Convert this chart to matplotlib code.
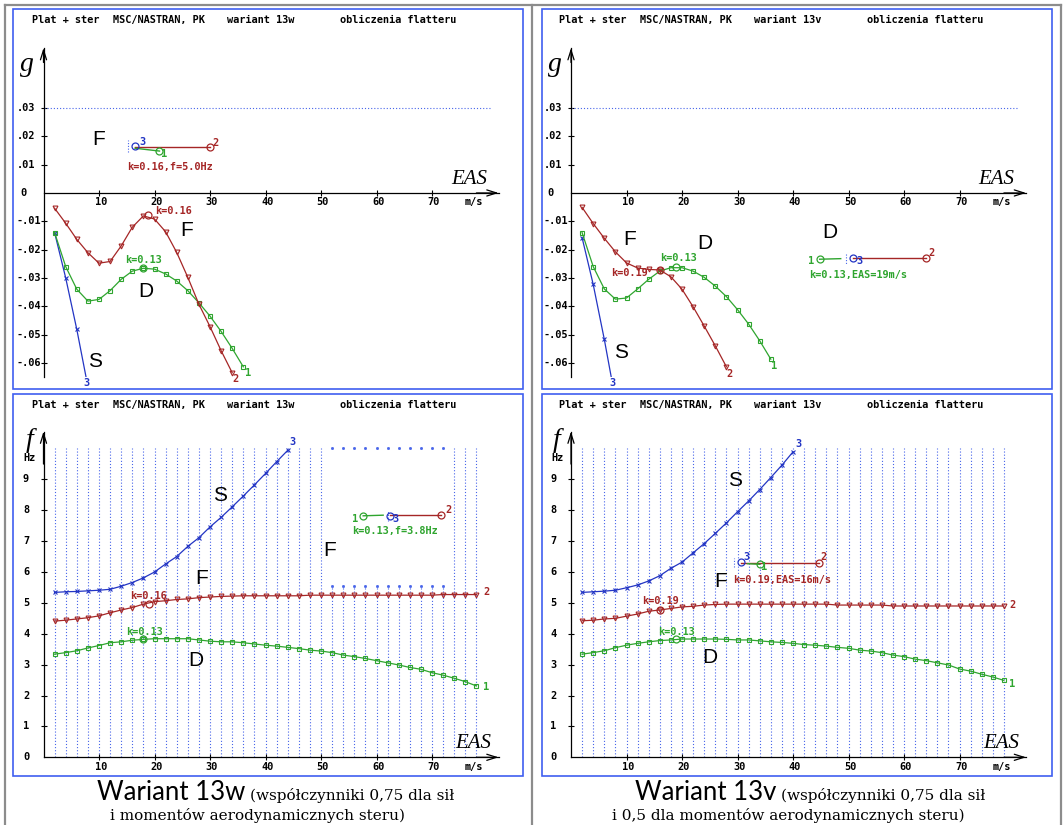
import numpy as np
import matplotlib.pyplot as plt
from matplotlib.patches import Rectangle
from matplotlib.lines import Line2D

W, H = 1063, 825

RED = '#a52626'
GREEN = '#2fa52f'
BLUE = '#2335c4'
DOT = '#4865ea'
BOX = '#3f5ff0'
GRAY = '#8c8c8c'

# ---------------- data (EAS in m/s) ----------------
eas = np.arange(2, 80, 2)            # 2 ... 78

# damping g, wariant 13w
g13w_1 = [-0.0140, -0.0260, -0.0340, -0.0382, -0.0376, -0.0345, -0.0305, -0.0276, -0.0266,
          -0.0269, -0.0286, -0.0311, -0.0345, -0.0388, -0.0435, -0.0489, -0.0549, -0.0614]
g13w_2 = [-0.0054, -0.0107, -0.0164, -0.0211, -0.0248, -0.0242, -0.0187, -0.0121, -0.0081,
          -0.0092, -0.0137, -0.0210, -0.0298, -0.0393, -0.0472, -0.0557, -0.0635]
g13w_3 = [-0.0140, -0.0300, -0.0482, -0.0684]

# damping g, wariant 13v
g13v_1 = [-0.0140, -0.0260, -0.0339, -0.0375, -0.0371, -0.0339, -0.0305, -0.0276, -0.0264,
          -0.0264, -0.0276, -0.0298, -0.0329, -0.0366, -0.0412, -0.0463, -0.0522, -0.0587]
g13v_2 = [-0.0051, -0.0108, -0.0160, -0.0208, -0.0247, -0.0265, -0.0270, -0.0272, -0.0296,
          -0.0340, -0.0402, -0.0470, -0.0540, -0.0614]
g13v_3 = [-0.0158, -0.0323, -0.0517, -0.0730]

# frequency f [Hz], wariant 13w
f13w_1 = [3.34, 3.39, 3.45, 3.54, 3.62, 3.71, 3.74, 3.79, 3.82, 3.84, 3.84, 3.84, 3.84,
          3.80, 3.76, 3.74, 3.74, 3.71, 3.67, 3.63, 3.60, 3.56, 3.52, 3.47, 3.44, 3.39,
          3.31, 3.26, 3.20, 3.13, 3.06, 2.99, 2.91, 2.85, 2.74, 2.66, 2.56, 2.45, 2.31]
f13w_2 = [4.41, 4.44, 4.48, 4.52, 4.58, 4.68, 4.77, 4.85, 4.96, 5.04, 5.07, 5.11, 5.13,
          5.17, 5.19, 5.21, 5.22] + [5.23] * 6 + [5.25] * 12 + [5.27] * 4
f13w_3 = [5.34, 5.36, 5.37, 5.39, 5.41, 5.44, 5.54, 5.66, 5.81, 6.00, 6.26, 6.50, 6.83,
          7.11, 7.46, 7.77, 8.11, 8.46, 8.82, 9.19, 9.57, 9.94]

# frequency f [Hz], wariant 13v
f13v_1 = [3.34, 3.39, 3.45, 3.55, 3.63, 3.69, 3.74, 3.78, 3.80, 3.83, 3.83, 3.83, 3.83,
          3.82, 3.80, 3.80, 3.77, 3.74, 3.72, 3.69, 3.65, 3.63, 3.60, 3.56, 3.53, 3.47,
          3.44, 3.39, 3.31, 3.26, 3.18, 3.13, 3.06, 2.99, 2.86, 2.79, 2.69, 2.60, 2.49]
f13v_2 = [4.42, 4.44, 4.48, 4.50, 4.57, 4.64, 4.73, 4.77, 4.82, 4.87, 4.89, 4.93, 4.95,
          4.96] + [4.96] * 9 + [4.93] * 5 + [4.90] * 11
f13v_3 = [5.34, 5.36, 5.38, 5.41, 5.49, 5.58, 5.71, 5.88, 6.12, 6.32, 6.62, 6.92, 7.25,
          7.59, 7.95, 8.30, 8.67, 9.06, 9.46, 9.89]

# flutter points (EAS, value) marked with circles
fl13w_g = {'2': (18.9, -0.0079), '1': (18.0, -0.0266)}
fl13v_g = {'2': (16.0, -0.0272), '1': (19.0, -0.0262)}
fl13w_f = {'2': (19.0, 4.98), '1': (18.0, 3.82)}
fl13v_f = {'2': (16.0, 4.77), '1': (19.0, 3.83)}

g_ticks = [0.03, 0.02, 0.01, 0, -0.01, -0.02, -0.03, -0.04, -0.05, -0.06]
g_labels = ['.03', '.02', '.01', '0', '-.01', '-.02', '-.03', '-.04', '-.05', '-.06']
f_ticks = list(range(0, 10))
x_ticks = list(range(10, 80, 10))

MONO = dict(family='DejaVu Sans Mono', fontweight='bold', fontsize=7.4)
BIG = dict(family='Liberation Sans', fontsize=15)
ITAL = dict(family='Liberation Serif', style='italic')

SX = 5.55
XEND = 82

fig = plt.figure(figsize=(W / 100, H / 100), dpi=100)
fig.patch.set_facecolor('white')


def px_axes(x0, ytop, x1, ybot):
    return fig.add_axes([x0 / W, 1 - ybot / H, (x1 - x0) / W, (ybot - ytop) / H])


def fig_line(xs, ys, **kw):
    fig.add_artist(Line2D([x / W for x in xs], [1 - y / H for y in ys],
                          transform=fig.transFigure, **kw))


def title(x0, y, var):
    for dx, s in zip([0, 81, 195, 308],
                     ['Plat + ster', 'MSC/NASTRAN, PK', 'wariant ' + var, 'obliczenia flatteru']):
        fig.text((x0 + dx) / W, 1 - y / H, s, ha='left', va='center', **MONO)


def make_axes(xpx, kind):
    if kind == 'g':
        ax = px_axes(xpx, 48, xpx + XEND * SX, 377)
        ax.set_ylim(-0.065, 0.0512)
        top = 0.0512
        ax.set_yticks([t for t in g_ticks if t != 0])
        for t, lab in zip(g_ticks, g_labels):
            ax.text(-4.9 if t != 0 else -4.2, t, lab, ha='left', va='center', **MONO)
        xl_y = -0.0032
        ax.text(-2.9, 0.0452, 'g', ha='center', va='center', fontsize=20, **ITAL)
        ax.text(76.7, 0.0046, 'EAS', ha='center', va='center', fontsize=15, **ITAL)
        ax.axhline(0.03, xmin=0, xmax=80.5 / XEND, color=DOT, lw=0.8, ls=(0, (1, 1.8)))
    else:
        ax = px_axes(xpx, 431.5, xpx + XEND * SX, 757.3)
        ax.set_ylim(0, 10.55)
        top = 10.55
        ax.set_yticks(f_ticks[1:])
        for t in f_ticks:
            ax.text(-3.15, t, str(t), ha='center', va='center', **MONO)
        ax.text(-2.5, 9.69, 'Hz', ha='center', va='center', **MONO)
        ax.text(-2.6, 10.25, 'f', ha='center', va='center', fontsize=20, **ITAL)
        xl_y = -0.32
        ax.text(77.5, 0.45, 'EAS', ha='center', va='center', fontsize=15, **ITAL)
    ax.set_xlim(0, XEND)
    ax.patch.set_alpha(0)
    for s in ['top', 'right']:
        ax.spines[s].set_visible(False)
    ax.spines['left'].set_position(('data', 0))
    ax.spines['bottom'].set_position(('data', 0))
    for s in ['left', 'bottom']:
        ax.spines[s].set_linewidth(0.9)
    ax.set_xticks(x_ticks)
    ax.tick_params(direction='inout', length=5, width=0.8,
                   labelleft=False, labelbottom=False)
    for t in x_ticks:
        ax.text(t + 0.3, xl_y, str(t), ha='center', va='center', **MONO)
    ax.text(77.6, xl_y, 'm/s', ha='center', va='center', **MONO)
    arrow = dict(arrowstyle='->,head_length=0.7,head_width=0.22', lw=0.9, color='k',
                 shrinkA=0, shrinkB=0)
    ax.annotate('', xy=(XEND, 0), xytext=(XEND - 4, 0), arrowprops=arrow,
                annotation_clip=False)
    ax.annotate('', xy=(0, top), xytext=(0, top * 0.9), arrowprops=arrow,
                annotation_clip=False)
    return ax


def curve(ax, y, col, mk, ms):
    x = eas[:len(y)]
    ax.plot(x, y, color=col, lw=0.9, marker=mk, ms=ms, mfc='none', mew=0.8, zorder=3)


def flutter(ax, pts):
    for key, (x, y) in pts.items():
        col = RED if key == '2' else GREEN
        ax.plot([x], [y], 'o', ms=5, mfc='none', mec=col, mew=0.9, zorder=4)


def small(ax, x, y, s, col, ha='center'):
    ax.text(x, y, s, color=col, ha=ha, va='center', **MONO)


def big(ax, x, y, s):
    ax.text(x, y, s, ha='center', va='center', **BIG)


def mini_legend(ax, dot, red, green, c1, c2, c3):
    # dotted tick, red segment, green segment, then circle centres of modes 1/2/3
    ax.plot([dot[0], dot[0]], [dot[1], dot[2]], color=DOT, lw=0.8, ls=(0, (1, 1.5)))
    ax.plot(red[0], red[1], color=RED, lw=1.0)
    ax.plot(green[0], green[1], color=GREEN, lw=1.0)
    for (x, y), c in [(c3, BLUE), (c2, RED), (c1, GREEN)]:
        ax.plot([x], [y], 'o', ms=5, mfc='none', mec=c, mew=0.9, zorder=4)


# ---------------- frames ----------------
fig_line([5, 5], [5, 825], color=GRAY, lw=1.6)
fig_line([1061, 1061], [5, 825], color=GRAY, lw=1.6)
fig_line([5, 1061], [5, 5], color=GRAY, lw=1.6)
fig_line([532, 532], [5, 825], color=GRAY, lw=1.6)
for x0, x1 in [(13, 523), (542, 1052)]:
    for y0, y1 in [(9, 389), (394, 776)]:
        fig.add_artist(Rectangle((x0 / W, 1 - y1 / H), (x1 - x0) / W, (y1 - y0) / H,
                                 transform=fig.transFigure, fill=False, ec=BOX, lw=1.2))

title(32, 20, '13w')
title(559, 20, '13v')
title(32, 405, '13w')
title(559, 405, '13v')

# ---------------- g, 13w ----------------
ax = make_axes(43.5, 'g')
curve(ax, g13w_3, BLUE, 'x', 3.5)
curve(ax, g13w_1, GREEN, 's', 3.2)
curve(ax, g13w_2, RED, 'v', 3.5)
flutter(ax, fl13w_g)
small(ax, 23.4, -0.0063, 'k=0.16', RED)
small(ax, 18.0, -0.0237, 'k=0.13', GREEN)
small(ax, 36.9, -0.0635, '1', GREEN)
small(ax, 34.6, -0.0658, '2', RED)
small(ax, 7.8, -0.0672, '3', BLUE)
big(ax, 25.8, -0.0131, 'F')
big(ax, 18.4, -0.0349, 'D')
big(ax, 9.3, -0.0596, 'S')
big(ax, 10.0, 0.0190, 'F')
mini_legend(ax, (15.2, 0.0143, 0.0188), ([16.5, 30.0], [0.0161, 0.0161]),
            ([16.5, 20.9], [0.0158, 0.0148]),
            (20.9, 0.0148), (30.0, 0.0161), (16.5, 0.0167))
small(ax, 17.8, 0.0181, '3', BLUE)
small(ax, 31.0, 0.0178, '2', RED)
small(ax, 21.8, 0.0138, '1', GREEN)
small(ax, 22.8, 0.0092, 'k=0.16,f=5.0Hz', RED)

# ---------------- g, 13v ----------------
ax = make_axes(571, 'g')
curve(ax, g13v_3, BLUE, 'x', 3.5)
curve(ax, g13v_1, GREEN, 's', 3.2)
curve(ax, g13v_2, RED, 'v', 3.5)
flutter(ax, fl13v_g)
small(ax, 10.6, -0.0282, 'k=0.19', RED)
small(ax, 19.4, -0.0229, 'k=0.13', GREEN)
small(ax, 36.6, -0.0610, '1', GREEN)
small(ax, 28.6, -0.0638, '2', RED)
small(ax, 7.4, -0.0670, '3', BLUE)
big(ax, 10.6, -0.0166, 'F')
big(ax, 24.2, -0.0178, 'D')
big(ax, 9.1, -0.0565, 'S')
big(ax, 46.6, -0.0139, 'D')
mini_legend(ax, (49.5, -0.0214, -0.0250), ([50.8, 63.9], [-0.0231, -0.0231]),
            ([44.8, 48.6], [-0.0234, -0.0232]),
            (44.8, -0.0234), (63.9, -0.0231), (50.8, -0.0231))
small(ax, 52.0, -0.0240, '3', BLUE)
small(ax, 64.9, -0.0211, '2', RED)
small(ax, 43.3, -0.0240, '1', GREEN)
small(ax, 51.8, -0.0290, 'k=0.13,EAS=19m/s', GREEN)

# ---------------- f, 13w ----------------
ax = make_axes(43.5, 'f')
for v in eas:
    if 52 <= v <= 72:
        ax.plot([v, v], [0, 5.55], color=DOT, lw=0.8, ls=(0, (1, 1.8)), zorder=1)
        ax.plot([v, v], [5.55, 10.0], ls='none', marker='s', ms=1.0, mfc=DOT, mec=DOT)
    else:
        ax.plot([v, v], [0, 10.0], color=DOT, lw=0.8, ls=(0, (1, 1.8)), zorder=1)
curve(ax, f13w_3, BLUE, 'x', 3.5)
curve(ax, f13w_1, GREEN, 's', 3.2)
curve(ax, f13w_2, RED, 'v', 3.5)
flutter(ax, fl13w_f)
small(ax, 19.0, 5.23, 'k=0.16', RED)
small(ax, 18.2, 4.07, 'k=0.13', GREEN)
small(ax, 79.7, 2.27, '1', GREEN)
small(ax, 79.8, 5.34, '2', RED)
small(ax, 44.8, 10.21, '3', BLUE)
big(ax, 31.8, 8.49, 'S')
big(ax, 28.5, 5.79, 'F')
big(ax, 51.5, 6.71, 'F')
big(ax, 27.5, 3.13, 'D')
mini_legend(ax, (62.0, 7.65, 8.00), ([62.4, 71.7], [7.84, 7.84]),
            ([57.6, 61.2], [7.82, 7.84]),
            (57.6, 7.82), (71.7, 7.84), (62.4, 7.82))
small(ax, 63.4, 7.73, '3', BLUE)
small(ax, 72.9, 8.00, '2', RED)
small(ax, 56.1, 7.73, '1', GREEN)
small(ax, 63.4, 7.32, 'k=0.13,f=3.8Hz', GREEN)

# ---------------- f, 13v ----------------
ax = make_axes(571, 'f')
for v in eas:
    ax.plot([v, v], [0, 10.0], color=DOT, lw=0.8, ls=(0, (1, 1.8)), zorder=1)
curve(ax, f13v_3, BLUE, 'x', 3.5)
curve(ax, f13v_1, GREEN, 's', 3.2)
curve(ax, f13v_2, RED, 'v', 3.5)
flutter(ax, fl13v_f)
small(ax, 16.1, 5.07, 'k=0.19', RED)
small(ax, 19.0, 4.07, 'k=0.13', GREEN)
small(ax, 79.5, 2.37, '1', GREEN)
small(ax, 79.5, 4.93, '2', RED)
small(ax, 40.9, 10.16, '3', BLUE)
big(ax, 29.6, 8.97, 'S')
big(ax, 26.9, 5.68, 'F')
big(ax, 25.1, 3.24, 'D')
mini_legend(ax, (29.4, 6.15, 6.45), ([30.6, 44.6], [6.28, 6.28]),
            ([31.8, 34.0], [6.27, 6.25]),
            (34.0, 6.25), (44.6, 6.28), (30.6, 6.31))
small(ax, 31.6, 6.49, '3', BLUE)
small(ax, 45.5, 6.47, '2', RED)
small(ax, 34.8, 6.17, '1', GREEN)
small(ax, 38.1, 5.74, 'k=0.19,EAS=16m/s', RED)

# ---------------- captions ----------------
SANS = dict(family='Lato', fontsize=18.5)
SERIF = dict(family='DejaVu Serif', fontsize=11)
fig.text(245 / W, 1 - 800 / H, 'Wariant 13w', ha='right', va='baseline', **SANS)
fig.text(250 / W, 1 - 800 / H, '(współczynniki 0,75 dla sił', ha='left', va='baseline', **SERIF)
fig.text(258 / W, 1 - 820 / H, 'i momentów aerodynamicznych steru)', ha='center', va='baseline', **SERIF)
fig.text(776 / W, 1 - 800 / H, 'Wariant 13v', ha='right', va='baseline', **SANS)
fig.text(781 / W, 1 - 800 / H, '(współczynniki 0,75 dla sił', ha='left', va='baseline', **SERIF)
fig.text(788 / W, 1 - 820 / H, 'i 0,5 dla momentów aerodynamicznych steru)', ha='center', va='baseline', **SERIF)

fig.savefig('out.png', dpi=100)
